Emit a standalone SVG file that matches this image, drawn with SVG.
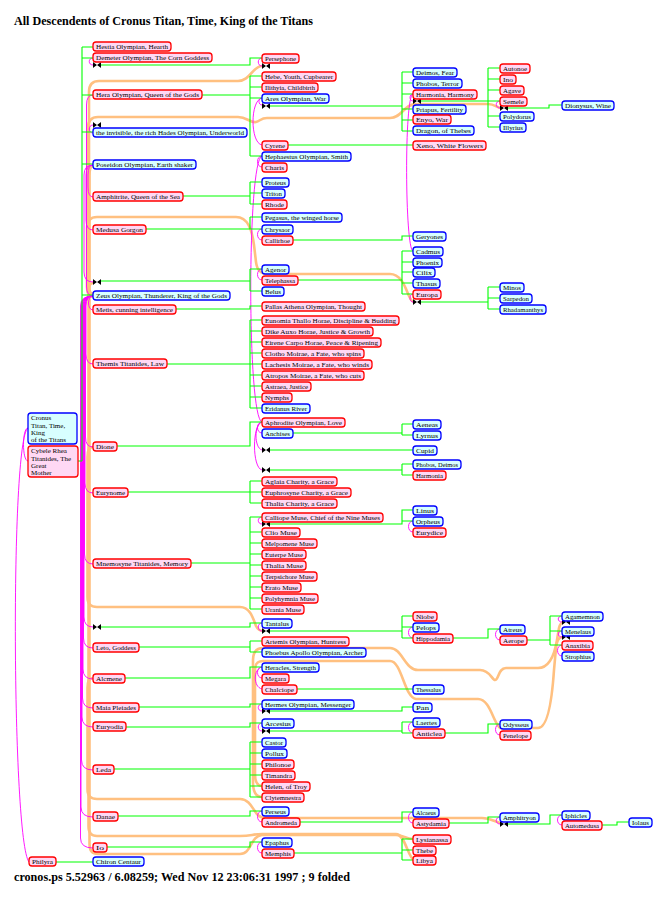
<svg xmlns="http://www.w3.org/2000/svg" width="667" height="907" viewBox="0 0 667 907">
<style>
.b{fill:#d8ffff;stroke:#0000ff;stroke-width:1.3}
.r{fill:#ffd8f4;stroke:#ff0000;stroke-width:1.3}
.t{font-family:"Liberation Serif","Times New Roman",serif;font-size:7px;fill:#000}
.h{font-family:"Liberation Serif","Times New Roman",serif;font-weight:bold;fill:#000}
.g{fill:none;stroke:#00ff00;stroke-width:1.1}
.m{fill:none;stroke:#ff00ff;stroke-width:0.9}
.o{fill:none;stroke:#ffc080;stroke-width:2.6}
</style>
<defs>
<g id="fold"><path d="M0.5,-2.5V2.5M7.5,-2.5V2.5" stroke="#000" stroke-width="1"/><path d="M0.5,-2.5L4,0L0.5,2.5ZM7.5,-2.5L4,0L7.5,2.5Z" fill="#000"/></g>
</defs>
<rect width="667" height="907" fill="#fff"/>
<text class="h" x="14" y="25" font-size="12.5" textLength="299" lengthAdjust="spacingAndGlyphs">All Descendents of Cronus Titan, Time, King of the Titans</text>
<text class="h" x="14" y="881" font-size="12" textLength="336" lengthAdjust="spacingAndGlyphs">cronos.ps  5.52963 / 6.08259; Wed Nov 12 23:06:31 1997 ; 9 folded</text>

<g id="connectors">
<g id="orange">
<path class="o" d="M93,294 Q89,294 89,284 L89,92 Q89,81 99,81 L238,81 C250,81 253,66 262,66"/>
<path class="o" d="M93,294 Q88,294 88,284 L88,128 Q88,117 98,117 L238,117 C247,117 250,123 256,122 C260,121 261,118 267,118 L390,118 C402,118 404,104 416,104 L488,104 C495,104 497,108 501,108"/>
<path class="o" d="M93,297 Q87,297 87,287 L87,228 Q87,217 97,217 L236,217 C248,217 252,230 254,245 L256,262 C257,270 260,274 268,274 L390,274 C402,274 406,290 409,296 C411,300 412,302 415,302"/>
<path class="o" d="M93,447 Q87.5,447 87.5,457 L87.5,597 Q87.5,607 97,607 L240,607 C250,607 253,618 256,626 C258,630 260,631 263,631"/>
<path class="o" d="M262,797 C256,797 253,792 253,782 L253,660 C253,652 256,648 263,648 L390,648 C402,648 405,670 418,670 L480,670 C490,670 492,680 495,680 C499,680 498,668 506,668 L538,668 C550,668 555,652 557,640 L559,628 C560,624 561,622 564,622"/>
<path class="o" d="M262,786 C257,786 255,782 255,774 L255,670 C255,664 257,661 263,661 L390,661 C402,661 404,697 416,699 L478,699 C490,699 493,722 500,728 L538,728 C548,728 552,700 554,670 L556,648 C557,641 558,638 562,637"/>
<path class="o" d="M93,678 Q87.5,678 87.5,688 L87.5,789 Q87.5,799 97,799 L240,799 C250,799 253,810 257,814 C259,817 262,818 268,818 L482,818 C492,818 496,823 502,823"/>
<path class="o" d="M93,283 Q88.5,283 88.5,293 L88.5,826 Q88.5,836 97,836 L240,836 C252,836 252,834 262,834 L396,834 C405,834 408,858 414,860"/>
<path class="o" d="M93,166 Q89.5,166 89.5,176 L89.5,844 Q89.5,854 98,854 L240,854 C252,854 250,836 262,835 L396,835 C403,835 406,839 413,839"/>
</g>
<g id="magenta">
<path class="m" d="M28,428 C22,428 22,461 28,461"/>
<path class="m" d="M28,428 C10,440 12,840 29,862"/>
<path class="m" d="M93,58 C88,58 88,65 93,65"/>
<path class="m" d="M93,133 C88,133 88,125 93,125"/>
<path class="m" d="M93,95 Q86.5,95 86.5,105 L86.5,286 Q86.5,296 93,296"/>
<path class="m" d="M93,165 Q88,165 88,175 L88,187 Q88,197 93,197"/>
<path class="m" d="M93,165 Q86,165 86,175 L86,220 Q86,230 93,230"/>
<path class="m" d="M93,165 Q84,165 84,175 L84,272 Q84,282 93,282"/>
<path class="m" d="M93,296 C87,296 87,310 93,310"/>
<path class="m" d="M93,296 Q86,296 86,306 L86,354 Q86,364 93,364"/>
<path class="m" d="M93,296 Q85.5,296 85.5,306 L85.5,437 Q85.5,447 93,447"/>
<path class="m" d="M93,296 Q85,296 85,306 L85,483 Q85,493 93,493"/>
<path class="m" d="M93,296 Q84.5,296 84.5,306 L84.5,554 Q84.5,564 93,564"/>
<path class="m" d="M93,296 Q84,296 84,306 L84,617 Q84,627 93,627"/>
<path class="m" d="M93,296 Q83.5,296 83.5,306 L83.5,638 Q83.5,648 93,648"/>
<path class="m" d="M93,296 Q83,296 83,306 L83,669 Q83,679 93,679"/>
<path class="m" d="M93,296 Q82.5,296 82.5,306 L82.5,698 Q82.5,708 93,708"/>
<path class="m" d="M93,296 Q82,296 82,306 L82,717 Q82,727 93,727"/>
<path class="m" d="M93,296 Q81.5,296 81.5,306 L81.5,760 Q81.5,770 93,770"/>
<path class="m" d="M93,296 Q81,296 81,306 L81,807 Q81,817 93,817"/>
<path class="m" d="M93,296 Q80.5,296 80.5,306 L80.5,838 Q80.5,848 93,848"/>
<path class="m" d="M262,58 C257,58 257,66 262,66"/>
<path class="m" d="M262,98 C258,98 258,105 262,105"/>
<path class="m" d="M262,98 C250,100 250,143 262,145"/>
<path class="m" d="M262,156 C256,156 256,167 262,167"/>
<path class="m" d="M262,156 C247,160 247,418 262,422"/>
<path class="m" d="M262,229 C256,229 256,240 262,240"/>
<path class="m" d="M262,269 C256,269 256,280 262,280"/>
<path class="m" d="M262,422 C256,422 256,433 262,433"/>
<path class="m" d="M262,422 C254,424 254,448 262,450"/>
<path class="m" d="M262,422 C252,424 252,468 262,470"/>
<path class="m" d="M262,517 C257,517 257,524 262,524"/>
<path class="m" d="M262,623 C257,623 257,631 262,631"/>
<path class="m" d="M262,667 C256,667 256,678 262,678"/>
<path class="m" d="M262,667 C253,669 253,687 262,689"/>
<path class="m" d="M262,704 C257,704 257,711 262,711"/>
<path class="m" d="M262,723 C257,723 257,731 262,731"/>
<path class="m" d="M262,811 C256,811 256,822 262,822"/>
<path class="m" d="M262,842 C256,842 256,853 262,853"/>
<path class="m" d="M413,94 C409,94 409,101 413,101"/>
<path class="m" d="M413,94 C404,96 405,249 413,251"/>
<path class="m" d="M413,294 C409,294 409,302 413,302"/>
<path class="m" d="M413,521 C407,521 407,532 413,532"/>
<path class="m" d="M413,627 C407,627 407,638 413,638"/>
<path class="m" d="M413,722 C407,722 407,733 413,733"/>
<path class="m" d="M413,812 C407,812 407,823 413,823"/>
<path class="m" d="M500,101 C495,101 495,108 500,108"/>
<path class="m" d="M500,629 C494,629 494,640 500,640"/>
<path class="m" d="M500,724 C494,724 494,735 500,735"/>
<path class="m" d="M500,817 C495,817 495,824 500,824"/>
<path class="m" d="M562,616 C557,616 557,622 562,622"/>
<path class="m" d="M562,631 C557,631 557,637 562,637"/>
<path class="m" d="M562,645 C556,645 556,656 562,656"/>
<path class="m" d="M562,815 C556,815 556,825 562,825"/>
</g>
<g id="green">
<path class="g" d="M78,461 H82 M82,47 V461 M82,47 H93 M82,58 H93 M82,95 H93 M82,132 H93 M82,164 H93 M82,295 H93"/>
<path class="g" d="M56,862 H93"/>
<path class="g" d="M101,65 H250 V58 H262"/>
<path class="g" d="M202,95 H250 M250,76 V156 M250,76 H262 M250,87 H262 M250,98 H262 M250,156 H262"/>
<path class="g" d="M183,196 H250 M250,182 V204 M250,182 H262 M250,193 H262 M250,204 H262"/>
<path class="g" d="M146,229 H262 M250,217 V229 M250,217 H262"/>
<path class="g" d="M101,281 H250 M250,269 V291 M250,269 H262 M250,291 H262"/>
<path class="g" d="M176,309 H250 V306 H262"/>
<path class="g" d="M167,364 H250 M250,320 V408 M250,320 H262 M250,331 H262 M250,342 H262 M250,353 H262 M250,364 H262 M250,375 H262 M250,386 H262 M250,397 H262 M250,408 H262"/>
<path class="g" d="M117,446 H250 V422 H262"/>
<path class="g" d="M128,492 H250 M250,481 V503 M250,481 H262 M250,492 H262 M250,503 H262"/>
<path class="g" d="M191,563 H250 M250,517 V609 M250,517 H262 M250,532 H262 M250,543 H262 M250,554 H262 M250,565 H262 M250,576 H262 M250,587 H262 M250,598 H262 M250,609 H262"/>
<path class="g" d="M101,627 H250 V623 H262"/>
<path class="g" d="M139,647 H250 M250,641 V652 M250,641 H262 M250,652 H262"/>
<path class="g" d="M125,678 H250 V667 H262"/>
<path class="g" d="M139,707 H250 V704 H262"/>
<path class="g" d="M126,727 H250 V723 H262"/>
<path class="g" d="M114,769 H250 M250,742 V797 M250,742 H262 M250,753 H262 M250,764 H262 M250,775 H262 M250,786 H262 M250,797 H262"/>
<path class="g" d="M118,816 H250 V811 H262"/>
<path class="g" d="M107,847 H250 V842 H262"/>
<path class="g" d="M270,106 H402 M402,72 V131 M402,72 H413 M402,83 H413 M402,94 H413 M402,109 H413 M402,120 H413 M402,131 H413"/>
<path class="g" d="M288,145 H413"/>
<path class="g" d="M293,240 H402 V236 H413"/>
<path class="g" d="M298,280 H402 M402,251 V294 M402,251 H413 M402,262 H413 M402,272 H413 M402,283 H413 M402,294 H413"/>
<path class="g" d="M293,433 H402 M402,424 V435 M402,424 H413 M402,435 H413"/>
<path class="g" d="M270,450 H413"/>
<path class="g" d="M270,470 H402 M402,464 V475 M402,464 H413 M402,475 H413"/>
<path class="g" d="M270,524 H402 V510 H413 M402,521 H413"/>
<path class="g" d="M270,631 H402 M402,616 V638 M402,616 H413 M402,627 H413 M402,638 H413"/>
<path class="g" d="M297,689 H413"/>
<path class="g" d="M270,711 H402 V707 H413"/>
<path class="g" d="M270,731 H402 M402,722 V733 M402,722 H413 M402,733 H413"/>
<path class="g" d="M300,822 H402 V812 H413"/>
<path class="g" d="M294,853 H402 M402,839 V860 M402,839 H413 M402,850 H413 M402,860 H413"/>
<path class="g" d="M421,101 H500 M488,68 V127 M488,68 H500 M488,79 H500 M488,90 H500 M488,116 H500 M488,127 H500"/>
<path class="g" d="M421,302 H488 M488,287 V309 M488,287 H500 M488,298 H500 M488,309 H500"/>
<path class="g" d="M453,638 H488 V629 H500"/>
<path class="g" d="M445,733 H488 V724 H500"/>
<path class="g" d="M449,823 H488 V817 H500"/>
<path class="g" d="M508,108 H549 V105 H562"/>
<path class="g" d="M527,640 H550 M550,616 V645 M550,616 H562 M550,631 H562 M550,645 H562"/>
<path class="g" d="M508,824 H550 V815 H562"/>
<path class="g" d="M602,825 H617 V822 H629"/>
</g>
<g id="folds">
<use href="#fold" x="93" y="65"/>
<use href="#fold" x="93" y="125"/>
<use href="#fold" x="93" y="282"/>
<use href="#fold" x="93" y="627"/>
<use href="#fold" x="262" y="66"/>
<use href="#fold" x="262" y="106"/>
<use href="#fold" x="262" y="450"/>
<use href="#fold" x="262" y="470"/>
<use href="#fold" x="262" y="524"/>
<use href="#fold" x="262" y="631"/>
<use href="#fold" x="262" y="711"/>
<use href="#fold" x="262" y="731"/>
<use href="#fold" x="413" y="101"/>
<use href="#fold" x="413" y="302"/>
<use href="#fold" x="500" y="108"/>
<use href="#fold" x="500" y="824"/>
<use href="#fold" x="562" y="622"/>
<use href="#fold" x="562" y="637"/>
</g>
</g>

<g id="nodes">
<g id="cronus"><rect class="b" x="28" y="413" width="49" height="31" rx="3"/><text class="t" x="31" y="420">Cronus</text><text class="t" x="31" y="427.5">Titan, Time,</text><text class="t" x="31" y="435">King</text><text class="t" x="31" y="442">of the Titans</text></g>
<g id="rhea"><rect class="r" x="28" y="446" width="50" height="31" rx="3"/><text class="t" x="31" y="453">Cybele Rhea</text><text class="t" x="31" y="460.5">Titanides, The</text><text class="t" x="31" y="468">Great</text><text class="t" x="31" y="475">Mother</text></g>
<g id="philyra"><rect class="r" x="29" y="857" width="27" height="9" rx="3"/><text class="t" x="32" y="864" textLength="21" lengthAdjust="spacingAndGlyphs">Philyra</text></g>

<g id="hestia"><rect class="r" x="93" y="42" width="78" height="9" rx="3"/><text class="t" x="96" y="49" textLength="72" lengthAdjust="spacingAndGlyphs">Hestia Olympian, Hearth</text></g>
<g id="demeter"><rect class="r" x="93" y="53" width="119" height="9" rx="3"/><text class="t" x="96" y="60" textLength="113" lengthAdjust="spacingAndGlyphs">Demeter Olympian, The Corn Goddess</text></g>
<g id="hera"><rect class="r" x="93" y="90" width="109" height="9" rx="3"/><text class="t" x="96" y="97" textLength="103" lengthAdjust="spacingAndGlyphs">Hera Olympian, Queen of the Gods</text></g>
<g id="hades"><rect class="b" x="93" y="128" width="154" height="9" rx="3"/><text class="t" x="96" y="135" textLength="148" lengthAdjust="spacingAndGlyphs">the invisible, the rich Hades Olympian, Underworld</text></g>
<g id="poseidon"><rect class="b" x="93" y="160" width="103" height="9" rx="3"/><text class="t" x="96" y="167" textLength="97" lengthAdjust="spacingAndGlyphs">Poseidon Olympian, Earth shaker</text></g>
<g id="amphitrite"><rect class="r" x="93" y="192" width="90" height="9" rx="3"/><text class="t" x="96" y="199" textLength="84" lengthAdjust="spacingAndGlyphs">Amphitrite, Queen of the Sea</text></g>
<g id="medusa"><rect class="r" x="93" y="225" width="53" height="9" rx="3"/><text class="t" x="96" y="232" textLength="47" lengthAdjust="spacingAndGlyphs">Medusa Gorgon</text></g>
<g id="zeus"><rect class="b" x="93" y="291" width="137" height="9" rx="3"/><text class="t" x="96" y="298" textLength="131" lengthAdjust="spacingAndGlyphs">Zeus Olympian, Thunderer, King of the Gods</text></g>
<g id="metis"><rect class="r" x="93" y="305" width="83" height="9" rx="3"/><text class="t" x="96" y="312" textLength="77" lengthAdjust="spacingAndGlyphs">Metis, cunning intelligence</text></g>
<g id="themis"><rect class="r" x="93" y="359" width="74" height="9" rx="3"/><text class="t" x="96" y="366" textLength="68" lengthAdjust="spacingAndGlyphs">Themis Titanides, Law</text></g>
<g id="dione"><rect class="r" x="93" y="442" width="24" height="9" rx="3"/><text class="t" x="96" y="449" textLength="18" lengthAdjust="spacingAndGlyphs">Dione</text></g>
<g id="eurynome"><rect class="r" x="93" y="488" width="35" height="9" rx="3"/><text class="t" x="96" y="495" textLength="29" lengthAdjust="spacingAndGlyphs">Eurynome</text></g>
<g id="mnemosyne"><rect class="r" x="93" y="559" width="98" height="9" rx="3"/><text class="t" x="96" y="566" textLength="92" lengthAdjust="spacingAndGlyphs">Mnemosyne Titanides, Memory</text></g>
<g id="leto"><rect class="r" x="93" y="643" width="46" height="9" rx="3"/><text class="t" x="96" y="650" textLength="40" lengthAdjust="spacingAndGlyphs">Leto, Goddess</text></g>
<g id="alcmene"><rect class="r" x="93" y="674" width="32" height="9" rx="3"/><text class="t" x="96" y="681" textLength="26" lengthAdjust="spacingAndGlyphs">Alcmene</text></g>
<g id="maia"><rect class="r" x="93" y="703" width="46" height="9" rx="3"/><text class="t" x="96" y="710" textLength="40" lengthAdjust="spacingAndGlyphs">Maia Pleiades</text></g>
<g id="euryodia"><rect class="r" x="93" y="722" width="33" height="9" rx="3"/><text class="t" x="96" y="729" textLength="27" lengthAdjust="spacingAndGlyphs">Euryodia</text></g>
<g id="leda"><rect class="r" x="93" y="765" width="21" height="9" rx="3"/><text class="t" x="96" y="772" textLength="15" lengthAdjust="spacingAndGlyphs">Leda</text></g>
<g id="danae"><rect class="r" x="93" y="812" width="25" height="9" rx="3"/><text class="t" x="96" y="819" textLength="19" lengthAdjust="spacingAndGlyphs">Danae</text></g>
<g id="io"><rect class="r" x="93" y="843" width="14" height="9" rx="3"/><text class="t" x="96" y="850" textLength="8" lengthAdjust="spacingAndGlyphs">Io</text></g>
<g id="chiron"><rect class="b" x="93" y="857" width="51" height="9" rx="3"/><text class="t" x="96" y="864" textLength="45" lengthAdjust="spacingAndGlyphs">Chiron Centaur</text></g>

<g id="persephone"><rect class="r" x="262" y="54" width="37" height="9" rx="3"/><text class="t" x="265" y="61" textLength="31" lengthAdjust="spacingAndGlyphs">Persephone</text></g>
<g id="hebe"><rect class="r" x="262" y="72" width="74" height="9" rx="3"/><text class="t" x="265" y="79" textLength="68" lengthAdjust="spacingAndGlyphs">Hebe, Youth, Cupbearer</text></g>
<g id="ilithyia"><rect class="r" x="262" y="83" width="56" height="9" rx="3"/><text class="t" x="265" y="90" textLength="50" lengthAdjust="spacingAndGlyphs">Ilithyia, Childbirth</text></g>
<g id="ares"><rect class="b" x="262" y="94" width="67" height="9" rx="3"/><text class="t" x="265" y="101" textLength="61" lengthAdjust="spacingAndGlyphs">Ares Olympian, War</text></g>
<g id="cyrene"><rect class="r" x="262" y="141" width="26" height="9" rx="3"/><text class="t" x="265" y="148" textLength="20" lengthAdjust="spacingAndGlyphs">Cyrene</text></g>
<g id="hephaestus"><rect class="b" x="262" y="152" width="89" height="9" rx="3"/><text class="t" x="265" y="159" textLength="83" lengthAdjust="spacingAndGlyphs">Hephaestus Olympian, Smith</text></g>
<g id="charis"><rect class="r" x="262" y="163" width="25" height="9" rx="3"/><text class="t" x="265" y="170" textLength="19" lengthAdjust="spacingAndGlyphs">Charis</text></g>
<g id="proteus"><rect class="b" x="262" y="178" width="27" height="9" rx="3"/><text class="t" x="265" y="185" textLength="21" lengthAdjust="spacingAndGlyphs">Proteus</text></g>
<g id="triton"><rect class="b" x="262" y="189" width="23" height="9" rx="3"/><text class="t" x="265" y="196" textLength="17" lengthAdjust="spacingAndGlyphs">Triton</text></g>
<g id="rhode"><rect class="r" x="262" y="200" width="25" height="9" rx="3"/><text class="t" x="265" y="207" textLength="19" lengthAdjust="spacingAndGlyphs">Rhode</text></g>
<g id="pegasus"><rect class="b" x="262" y="213" width="80" height="9" rx="3"/><text class="t" x="265" y="220" textLength="74" lengthAdjust="spacingAndGlyphs">Pegasus, the winged horse</text></g>
<g id="chrysaor"><rect class="b" x="262" y="225" width="31" height="9" rx="3"/><text class="t" x="265" y="232" textLength="25" lengthAdjust="spacingAndGlyphs">Chrysaor</text></g>
<g id="callirhoe"><rect class="r" x="262" y="236" width="31" height="9" rx="3"/><text class="t" x="265" y="243" textLength="25" lengthAdjust="spacingAndGlyphs">Callirhoe</text></g>
<g id="agenor"><rect class="b" x="262" y="265" width="27" height="9" rx="3"/><text class="t" x="265" y="272" textLength="21" lengthAdjust="spacingAndGlyphs">Agenor</text></g>
<g id="telephassa"><rect class="r" x="262" y="276" width="36" height="9" rx="3"/><text class="t" x="265" y="283" textLength="30" lengthAdjust="spacingAndGlyphs">Telephassa</text></g>
<g id="belus"><rect class="b" x="262" y="287" width="22" height="9" rx="3"/><text class="t" x="265" y="294" textLength="16" lengthAdjust="spacingAndGlyphs">Belus</text></g>
<g id="athena"><rect class="r" x="262" y="302" width="103" height="9" rx="3"/><text class="t" x="265" y="309" textLength="97" lengthAdjust="spacingAndGlyphs">Pallas Athena Olympian, Thought</text></g>
<g id="eunomia"><rect class="r" x="262" y="316" width="137" height="9" rx="3"/><text class="t" x="265" y="323" textLength="131" lengthAdjust="spacingAndGlyphs">Eunomia Thallo Horae, Discipline &amp; Budding</text></g>
<g id="dike"><rect class="r" x="262" y="327" width="111" height="9" rx="3"/><text class="t" x="265" y="334" textLength="105" lengthAdjust="spacingAndGlyphs">Dike Auxo Horae, Justice &amp; Growth</text></g>
<g id="eirene"><rect class="r" x="262" y="338" width="119" height="9" rx="3"/><text class="t" x="265" y="345" textLength="113" lengthAdjust="spacingAndGlyphs">Eirene Carpo Horae, Peace &amp; Ripening</text></g>
<g id="clotho"><rect class="r" x="262" y="349" width="102" height="9" rx="3"/><text class="t" x="265" y="356" textLength="96" lengthAdjust="spacingAndGlyphs">Clotho Moirae, a Fate, who spins</text></g>
<g id="lachesis"><rect class="r" x="262" y="360" width="110" height="9" rx="3"/><text class="t" x="265" y="367" textLength="104" lengthAdjust="spacingAndGlyphs">Lachesis Moirae, a Fate, who winds</text></g>
<g id="atropos"><rect class="r" x="262" y="371" width="102" height="9" rx="3"/><text class="t" x="265" y="378" textLength="96" lengthAdjust="spacingAndGlyphs">Atropos Moirae, a Fate, who cuts</text></g>
<g id="astraea"><rect class="r" x="262" y="382" width="49" height="9" rx="3"/><text class="t" x="265" y="389" textLength="43" lengthAdjust="spacingAndGlyphs">Astraea, Justice</text></g>
<g id="nymphs"><rect class="r" x="262" y="393" width="30" height="9" rx="3"/><text class="t" x="265" y="400" textLength="24" lengthAdjust="spacingAndGlyphs">Nymphs</text></g>
<g id="eridanus"><rect class="b" x="262" y="404" width="48" height="9" rx="3"/><text class="t" x="265" y="411" textLength="42" lengthAdjust="spacingAndGlyphs">Eridanus River</text></g>
<g id="aphrodite"><rect class="r" x="262" y="418" width="83" height="9" rx="3"/><text class="t" x="265" y="425" textLength="77" lengthAdjust="spacingAndGlyphs">Aphrodite Olympian, Love</text></g>
<g id="anchises"><rect class="b" x="262" y="429" width="31" height="9" rx="3"/><text class="t" x="265" y="436" textLength="25" lengthAdjust="spacingAndGlyphs">Anchises</text></g>
<g id="aglaia"><rect class="r" x="262" y="477" width="75" height="9" rx="3"/><text class="t" x="265" y="484" textLength="69" lengthAdjust="spacingAndGlyphs">Aglaia Charity, a Grace</text></g>
<g id="euphrosyne"><rect class="r" x="262" y="488" width="89" height="9" rx="3"/><text class="t" x="265" y="495" textLength="83" lengthAdjust="spacingAndGlyphs">Euphrosyne Charity, a Grace</text></g>
<g id="thalia-grace"><rect class="r" x="262" y="499" width="75" height="9" rx="3"/><text class="t" x="265" y="506" textLength="69" lengthAdjust="spacingAndGlyphs">Thalia Charity, a Grace</text></g>
<g id="calliope"><rect class="r" x="262" y="513" width="121" height="9" rx="3"/><text class="t" x="265" y="520" textLength="115" lengthAdjust="spacingAndGlyphs">Calliope Muse, Chief of the Nine Muses</text></g>
<g id="clio"><rect class="r" x="262" y="528" width="38" height="9" rx="3"/><text class="t" x="265" y="535" textLength="32" lengthAdjust="spacingAndGlyphs">Clio Muse</text></g>
<g id="melpomene"><rect class="r" x="262" y="539" width="55" height="9" rx="3"/><text class="t" x="265" y="546" textLength="49" lengthAdjust="spacingAndGlyphs">Melpomene Muse</text></g>
<g id="euterpe"><rect class="r" x="262" y="550" width="44" height="9" rx="3"/><text class="t" x="265" y="557" textLength="38" lengthAdjust="spacingAndGlyphs">Euterpe Muse</text></g>
<g id="thalia-muse"><rect class="r" x="262" y="561" width="44" height="9" rx="3"/><text class="t" x="265" y="568" textLength="38" lengthAdjust="spacingAndGlyphs">Thalia Muse</text></g>
<g id="terpsichore"><rect class="r" x="262" y="572" width="55" height="9" rx="3"/><text class="t" x="265" y="579" textLength="49" lengthAdjust="spacingAndGlyphs">Terpsichore Muse</text></g>
<g id="erato"><rect class="r" x="262" y="583" width="39" height="9" rx="3"/><text class="t" x="265" y="590" textLength="33" lengthAdjust="spacingAndGlyphs">Erato Muse</text></g>
<g id="polyhymnia"><rect class="r" x="262" y="594" width="56" height="9" rx="3"/><text class="t" x="265" y="601" textLength="50" lengthAdjust="spacingAndGlyphs">Polyhymnia Muse</text></g>
<g id="urania"><rect class="r" x="262" y="605" width="42" height="9" rx="3"/><text class="t" x="265" y="612" textLength="36" lengthAdjust="spacingAndGlyphs">Urania Muse</text></g>
<g id="tantalus"><rect class="b" x="262" y="619" width="30" height="9" rx="3"/><text class="t" x="265" y="626" textLength="24" lengthAdjust="spacingAndGlyphs">Tantalus</text></g>
<g id="artemis"><rect class="r" x="262" y="637" width="87" height="9" rx="3"/><text class="t" x="265" y="644" textLength="81" lengthAdjust="spacingAndGlyphs">Artemis Olympian, Huntress</text></g>
<g id="apollo"><rect class="b" x="262" y="648" width="104" height="9" rx="3"/><text class="t" x="265" y="655" textLength="98" lengthAdjust="spacingAndGlyphs">Phoebus Apollo Olympian, Archer</text></g>
<g id="heracles"><rect class="b" x="262" y="663" width="57" height="9" rx="3"/><text class="t" x="265" y="670" textLength="51" lengthAdjust="spacingAndGlyphs">Heracles, Strength</text></g>
<g id="megara"><rect class="r" x="262" y="674" width="27" height="9" rx="3"/><text class="t" x="265" y="681" textLength="21" lengthAdjust="spacingAndGlyphs">Megara</text></g>
<g id="chalciope"><rect class="r" x="262" y="685" width="35" height="9" rx="3"/><text class="t" x="265" y="692" textLength="29" lengthAdjust="spacingAndGlyphs">Chalciope</text></g>
<g id="hermes"><rect class="b" x="262" y="700" width="92" height="9" rx="3"/><text class="t" x="265" y="707" textLength="86" lengthAdjust="spacingAndGlyphs">Hermes Olympian, Messenger</text></g>
<g id="arcesius"><rect class="b" x="262" y="719" width="32" height="9" rx="3"/><text class="t" x="265" y="726" textLength="26" lengthAdjust="spacingAndGlyphs">Arcesius</text></g>
<g id="castor"><rect class="b" x="262" y="738" width="24" height="9" rx="3"/><text class="t" x="265" y="745" textLength="18" lengthAdjust="spacingAndGlyphs">Castor</text></g>
<g id="pollux"><rect class="b" x="262" y="749" width="25" height="9" rx="3"/><text class="t" x="265" y="756" textLength="19" lengthAdjust="spacingAndGlyphs">Pollux</text></g>
<g id="philonoe"><rect class="r" x="262" y="760" width="32" height="9" rx="3"/><text class="t" x="265" y="767" textLength="26" lengthAdjust="spacingAndGlyphs">Philonoe</text></g>
<g id="timandra"><rect class="r" x="262" y="771" width="33" height="9" rx="3"/><text class="t" x="265" y="778" textLength="27" lengthAdjust="spacingAndGlyphs">Timandra</text></g>
<g id="helen"><rect class="r" x="262" y="782" width="48" height="9" rx="3"/><text class="t" x="265" y="789" textLength="42" lengthAdjust="spacingAndGlyphs">Helen, of Troy</text></g>
<g id="clytemnestra"><rect class="r" x="262" y="793" width="42" height="9" rx="3"/><text class="t" x="265" y="800" textLength="36" lengthAdjust="spacingAndGlyphs">Clytemnestra</text></g>
<g id="perseus"><rect class="b" x="262" y="807" width="27" height="9" rx="3"/><text class="t" x="265" y="814" textLength="21" lengthAdjust="spacingAndGlyphs">Perseus</text></g>
<g id="andromeda"><rect class="r" x="262" y="818" width="38" height="9" rx="3"/><text class="t" x="265" y="825" textLength="32" lengthAdjust="spacingAndGlyphs">Andromeda</text></g>
<g id="epaphus"><rect class="b" x="262" y="838" width="30" height="9" rx="3"/><text class="t" x="265" y="845" textLength="24" lengthAdjust="spacingAndGlyphs">Epaphus</text></g>
<g id="memphis"><rect class="r" x="262" y="849" width="32" height="9" rx="3"/><text class="t" x="265" y="856" textLength="26" lengthAdjust="spacingAndGlyphs">Memphis</text></g>

<g id="deimos"><rect class="b" x="413" y="68" width="44" height="9" rx="3"/><text class="t" x="416" y="75" textLength="38" lengthAdjust="spacingAndGlyphs">Deimos, Fear</text></g>
<g id="phobos"><rect class="b" x="413" y="79" width="49" height="9" rx="3"/><text class="t" x="416" y="86" textLength="43" lengthAdjust="spacingAndGlyphs">Phobos, Terror</text></g>
<g id="harmonia"><rect class="r" x="413" y="90" width="64" height="9" rx="3"/><text class="t" x="416" y="97" textLength="58" lengthAdjust="spacingAndGlyphs">Harmonia, Harmony</text></g>
<g id="priapus"><rect class="b" x="413" y="105" width="53" height="9" rx="3"/><text class="t" x="416" y="112" textLength="47" lengthAdjust="spacingAndGlyphs">Priapus, Fertility</text></g>
<g id="enyo"><rect class="r" x="413" y="115" width="38" height="9" rx="3"/><text class="t" x="416" y="122" textLength="32" lengthAdjust="spacingAndGlyphs">Enyo, War</text></g>
<g id="dragon"><rect class="b" x="413" y="126" width="61" height="9" rx="3"/><text class="t" x="416" y="133" textLength="55" lengthAdjust="spacingAndGlyphs">Dragon, of Thebes</text></g>
<g id="xeno"><rect class="r" x="413" y="141" width="73" height="9" rx="3"/><text class="t" x="416" y="148" textLength="67" lengthAdjust="spacingAndGlyphs">Xeno, White Flowers</text></g>
<g id="geryones"><rect class="b" x="413" y="232" width="33" height="9" rx="3"/><text class="t" x="416" y="239" textLength="27" lengthAdjust="spacingAndGlyphs">Geryones</text></g>
<g id="cadmus"><rect class="b" x="413" y="247" width="30" height="9" rx="3"/><text class="t" x="416" y="254" textLength="24" lengthAdjust="spacingAndGlyphs">Cadmus</text></g>
<g id="phoenix"><rect class="b" x="413" y="258" width="29" height="9" rx="3"/><text class="t" x="416" y="265" textLength="23" lengthAdjust="spacingAndGlyphs">Phoenix</text></g>
<g id="cilix"><rect class="b" x="413" y="268" width="22" height="9" rx="3"/><text class="t" x="416" y="275" textLength="16" lengthAdjust="spacingAndGlyphs">Cilix</text></g>
<g id="thasus"><rect class="b" x="413" y="279" width="27" height="9" rx="3"/><text class="t" x="416" y="286" textLength="21" lengthAdjust="spacingAndGlyphs">Thasus</text></g>
<g id="europa"><rect class="r" x="413" y="290" width="28" height="9" rx="3"/><text class="t" x="416" y="297" textLength="22" lengthAdjust="spacingAndGlyphs">Europa</text></g>
<g id="aeneas"><rect class="b" x="413" y="420" width="28" height="9" rx="3"/><text class="t" x="416" y="427" textLength="22" lengthAdjust="spacingAndGlyphs">Aeneas</text></g>
<g id="lyrnus"><rect class="b" x="413" y="431" width="28" height="9" rx="3"/><text class="t" x="416" y="438" textLength="22" lengthAdjust="spacingAndGlyphs">Lyrnus</text></g>
<g id="cupid"><rect class="b" x="413" y="446" width="24" height="9" rx="3"/><text class="t" x="416" y="453" textLength="18" lengthAdjust="spacingAndGlyphs">Cupid</text></g>
<g id="phobos-deimos"><rect class="b" x="413" y="460" width="48" height="9" rx="3"/><text class="t" x="416" y="467" textLength="42" lengthAdjust="spacingAndGlyphs">Phobos, Deimos</text></g>
<g id="harmonia2"><rect class="r" x="413" y="471" width="33" height="9" rx="3"/><text class="t" x="416" y="478" textLength="27" lengthAdjust="spacingAndGlyphs">Harmonia</text></g>
<g id="linus"><rect class="b" x="413" y="506" width="24" height="9" rx="3"/><text class="t" x="416" y="513" textLength="18" lengthAdjust="spacingAndGlyphs">Linus</text></g>
<g id="orpheus"><rect class="b" x="413" y="517" width="30" height="9" rx="3"/><text class="t" x="416" y="524" textLength="24" lengthAdjust="spacingAndGlyphs">Orpheus</text></g>
<g id="eurydice"><rect class="r" x="413" y="528" width="33" height="9" rx="3"/><text class="t" x="416" y="535" textLength="27" lengthAdjust="spacingAndGlyphs">Eurydice</text></g>
<g id="niobe"><rect class="r" x="413" y="612" width="24" height="9" rx="3"/><text class="t" x="416" y="619" textLength="18" lengthAdjust="spacingAndGlyphs">Niobe</text></g>
<g id="pelops"><rect class="b" x="413" y="623" width="26" height="9" rx="3"/><text class="t" x="416" y="630" textLength="20" lengthAdjust="spacingAndGlyphs">Pelops</text></g>
<g id="hippodamia"><rect class="r" x="413" y="634" width="40" height="9" rx="3"/><text class="t" x="416" y="641" textLength="34" lengthAdjust="spacingAndGlyphs">Hippodamia</text></g>
<g id="thessalus"><rect class="b" x="413" y="685" width="31" height="9" rx="3"/><text class="t" x="416" y="692" textLength="25" lengthAdjust="spacingAndGlyphs">Thessalus</text></g>
<g id="pan"><rect class="b" x="413" y="703" width="19" height="9" rx="3"/><text class="t" x="416" y="710" textLength="13" lengthAdjust="spacingAndGlyphs">Pan</text></g>
<g id="laertes"><rect class="b" x="413" y="718" width="27" height="9" rx="3"/><text class="t" x="416" y="725" textLength="21" lengthAdjust="spacingAndGlyphs">Laertes</text></g>
<g id="anticlea"><rect class="r" x="413" y="729" width="32" height="9" rx="3"/><text class="t" x="416" y="736" textLength="26" lengthAdjust="spacingAndGlyphs">Anticlea</text></g>
<g id="alcaeus"><rect class="b" x="413" y="808" width="26" height="9" rx="3"/><text class="t" x="416" y="815" textLength="20" lengthAdjust="spacingAndGlyphs">Alcaeus</text></g>
<g id="astydamia"><rect class="r" x="413" y="819" width="36" height="9" rx="3"/><text class="t" x="416" y="826" textLength="30" lengthAdjust="spacingAndGlyphs">Astydamia</text></g>
<g id="lysianassa"><rect class="r" x="413" y="835" width="38" height="9" rx="3"/><text class="t" x="416" y="842" textLength="32" lengthAdjust="spacingAndGlyphs">Lysianassa</text></g>
<g id="thebe"><rect class="r" x="413" y="846" width="23" height="9" rx="3"/><text class="t" x="416" y="853" textLength="17" lengthAdjust="spacingAndGlyphs">Thebe</text></g>
<g id="libya"><rect class="r" x="413" y="856" width="23" height="9" rx="3"/><text class="t" x="416" y="863" textLength="17" lengthAdjust="spacingAndGlyphs">Libya</text></g>

<g id="autonoe"><rect class="r" x="500" y="64" width="30" height="9" rx="3"/><text class="t" x="503" y="71" textLength="24" lengthAdjust="spacingAndGlyphs">Autonoe</text></g>
<g id="ino"><rect class="r" x="500" y="75" width="16" height="9" rx="3"/><text class="t" x="503" y="82" textLength="10" lengthAdjust="spacingAndGlyphs">Ino</text></g>
<g id="agave"><rect class="r" x="500" y="86" width="24" height="9" rx="3"/><text class="t" x="503" y="93" textLength="18" lengthAdjust="spacingAndGlyphs">Agave</text></g>
<g id="semele"><rect class="r" x="500" y="97" width="27" height="9" rx="3"/><text class="t" x="503" y="104" textLength="21" lengthAdjust="spacingAndGlyphs">Semele</text></g>
<g id="polydorus"><rect class="b" x="500" y="112" width="34" height="9" rx="3"/><text class="t" x="503" y="119" textLength="28" lengthAdjust="spacingAndGlyphs">Polydorus</text></g>
<g id="illyrius"><rect class="b" x="500" y="123" width="26" height="9" rx="3"/><text class="t" x="503" y="130" textLength="20" lengthAdjust="spacingAndGlyphs">Illyrius</text></g>
<g id="minos"><rect class="b" x="500" y="283" width="24" height="9" rx="3"/><text class="t" x="503" y="290" textLength="18" lengthAdjust="spacingAndGlyphs">Minos</text></g>
<g id="sarpedon"><rect class="b" x="500" y="294" width="32" height="9" rx="3"/><text class="t" x="503" y="301" textLength="26" lengthAdjust="spacingAndGlyphs">Sarpedon</text></g>
<g id="rhadamanthys"><rect class="b" x="500" y="305" width="46" height="9" rx="3"/><text class="t" x="503" y="312" textLength="40" lengthAdjust="spacingAndGlyphs">Rhadamanthys</text></g>
<g id="atreus"><rect class="b" x="500" y="625" width="25" height="9" rx="3"/><text class="t" x="503" y="632" textLength="19" lengthAdjust="spacingAndGlyphs">Atreus</text></g>
<g id="aerope"><rect class="r" x="500" y="636" width="27" height="9" rx="3"/><text class="t" x="503" y="643" textLength="21" lengthAdjust="spacingAndGlyphs">Aerope</text></g>
<g id="odysseus"><rect class="b" x="500" y="720" width="32" height="9" rx="3"/><text class="t" x="503" y="727" textLength="26" lengthAdjust="spacingAndGlyphs">Odysseus</text></g>
<g id="penelope"><rect class="r" x="500" y="731" width="31" height="9" rx="3"/><text class="t" x="503" y="738" textLength="25" lengthAdjust="spacingAndGlyphs">Penelope</text></g>
<g id="amphitryon"><rect class="b" x="500" y="813" width="39" height="9" rx="3"/><text class="t" x="503" y="820" textLength="33" lengthAdjust="spacingAndGlyphs">Amphitryon</text></g>

<g id="dionysus"><rect class="b" x="562" y="101" width="52" height="9" rx="3"/><text class="t" x="565" y="108" textLength="46" lengthAdjust="spacingAndGlyphs">Dionysus, Wine</text></g>
<g id="agamemnon"><rect class="b" x="562" y="612" width="41" height="9" rx="3"/><text class="t" x="565" y="619" textLength="35" lengthAdjust="spacingAndGlyphs">Agamemnon</text></g>
<g id="menelaus"><rect class="b" x="562" y="627" width="32" height="9" rx="3"/><text class="t" x="565" y="634" textLength="26" lengthAdjust="spacingAndGlyphs">Menelaus</text></g>
<g id="anaxibia"><rect class="r" x="562" y="641" width="31" height="9" rx="3"/><text class="t" x="565" y="648" textLength="25" lengthAdjust="spacingAndGlyphs">Anaxibia</text></g>
<g id="strophius"><rect class="b" x="562" y="652" width="32" height="9" rx="3"/><text class="t" x="565" y="659" textLength="26" lengthAdjust="spacingAndGlyphs">Strophius</text></g>
<g id="iphicles"><rect class="b" x="562" y="811" width="28" height="9" rx="3"/><text class="t" x="565" y="818" textLength="22" lengthAdjust="spacingAndGlyphs">Iphicles</text></g>
<g id="automedusa"><rect class="r" x="562" y="821" width="40" height="9" rx="3"/><text class="t" x="565" y="828" textLength="34" lengthAdjust="spacingAndGlyphs">Automedusa</text></g>
<g id="iolaus"><rect class="b" x="629" y="818" width="23" height="9" rx="3"/><text class="t" x="632" y="825" textLength="17" lengthAdjust="spacingAndGlyphs">Iolaus</text></g>
</g>
</svg>
